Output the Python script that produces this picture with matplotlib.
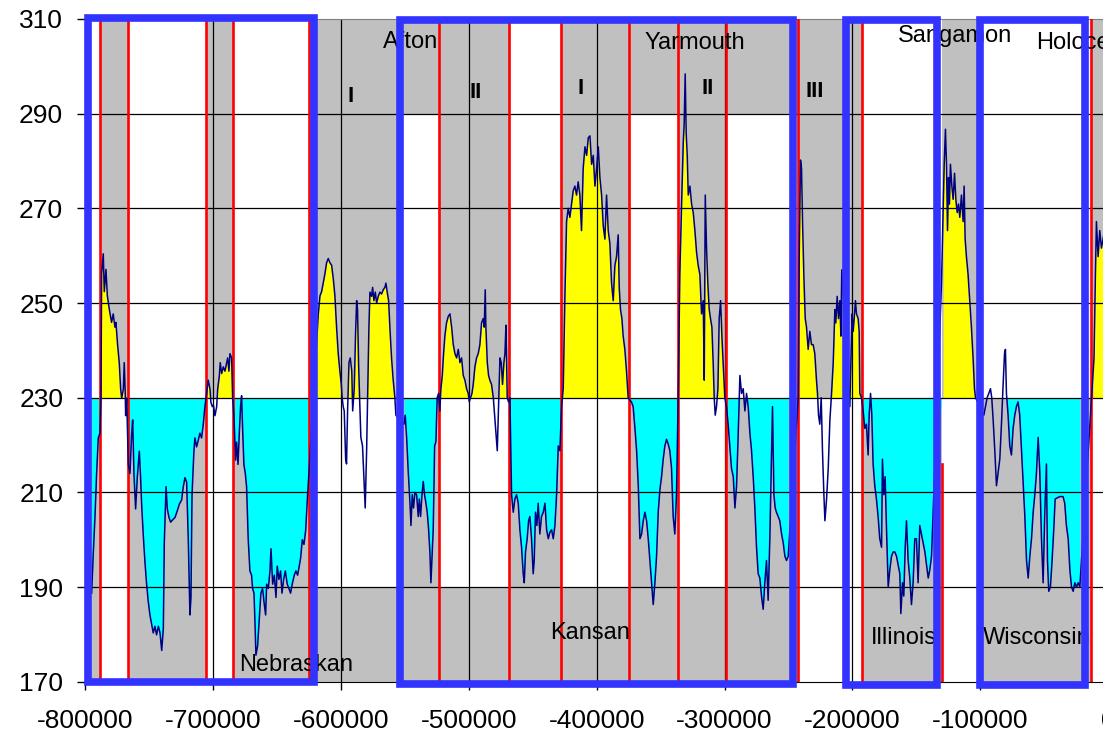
import numpy as np
import matplotlib.pyplot as plt
from matplotlib.patches import Rectangle

plt.rcParams['font.family'] = ['Liberation Sans', 'DejaVu Sans']

# CO2 record: age in thousand years (negative = before present), ppm
age_kyr = [
    -795.1, -793.8, -792.5, -791.2, -789.9, -788.6, -787.8, -787.3, -786.0, -785.2,
    -783.9, -782.8, -781.3, -779.5, -778.2, -776.9, -776.1, -774.8, -773.5, -772.4,
    -771.6, -770.3, -769.6, -768.8, -768.5, -767.7, -766.4, -765.1, -763.8, -763.0,
    -762.0, -760.7, -759.4, -758.6, -757.8, -756.8, -756.0, -754.7, -753.4, -752.1,
    -750.8, -749.5, -748.2, -746.9, -745.6, -744.3, -742.9, -741.6, -740.3, -739.0,
    -738.3, -736.9, -735.9, -734.6, -733.3, -731.7, -729.9, -728.1, -726.5, -724.7,
    -723.4, -722.1, -720.8, -719.5, -718.2, -717.4, -716.6, -715.1, -714.3, -713.0,
    -711.7, -710.4, -709.1, -707.8, -706.5, -705.2, -703.9, -702.5, -701.8, -700.7,
    -699.9, -698.6, -697.3, -696.5, -695.2, -694.5, -693.4, -692.1, -690.8, -689.5,
    -688.7, -687.7, -686.9, -685.6, -684.8, -683.8, -682.5, -681.7, -680.6, -679.6,
    -678.6, -677.8, -677.0, -676.0, -674.9, -673.9, -672.6, -671.3, -670.0, -669.2,
    -668.1, -667.4, -666.6, -665.3, -664.0, -662.7, -661.4, -660.3, -659.0, -658.2,
    -656.9, -655.6, -654.8, -653.5, -652.2, -650.9, -649.9, -648.6, -647.3, -646.2,
    -644.9, -643.6, -642.1, -640.8, -639.5, -638.2, -636.6, -635.3, -634.0, -632.7,
    -631.6, -630.3, -629.0, -627.7, -626.2, -624.9, -617.8, -616.5, -615.2, -613.9,
    -612.6, -611.3, -610.0, -608.7, -607.4, -606.1, -604.8, -603.5, -602.2, -600.9,
    -599.8, -599.1, -598.3, -597.5, -596.4, -595.7, -594.9, -593.8, -592.8, -591.6,
    -590.9, -590.4, -589.7, -588.6, -587.8, -587.1, -586.3, -585.5, -584.5, -583.2,
    -581.8, -581.1, -580.0, -579.0, -578.2, -577.4, -576.1, -575.3, -574.3, -573.2,
    -572.2, -570.9, -569.6, -568.3, -567.0, -565.7, -564.9, -563.9, -562.8, -561.8,
    -560.5, -559.2, -557.9, -557.1, -550.8, -549.8, -548.7, -547.4, -546.1, -545.3,
    -544.3, -543.3, -542.2, -540.9, -539.6, -538.8, -537.8, -536.7, -535.7, -534.7,
    -533.6, -532.6, -531.5, -530.5, -529.7, -528.7, -527.9, -526.8, -525.8, -524.8,
    -523.7, -522.7, -521.9, -520.8, -519.8, -518.8, -517.5, -516.1, -514.8, -513.5,
    -512.2, -510.9, -509.6, -508.3, -507.0, -505.7, -504.4, -503.1, -501.8, -500.5,
    -499.7, -498.7, -497.6, -496.6, -495.3, -494.0, -492.7, -491.4, -490.1, -488.8,
    -488.0, -487.2, -486.7, -485.6, -484.6, -483.6, -482.3, -480.9, -479.9, -478.9,
    -477.8, -476.8, -475.7, -474.7, -473.7, -472.6, -471.8, -471.0, -470.5, -470.0,
    -469.0, -467.9, -466.6, -465.3, -464.0, -462.7, -461.4, -460.1, -458.8, -457.5,
    -456.7, -455.7, -454.4, -453.3, -452.3, -451.0, -449.7, -448.9, -447.9, -446.8,
    -445.8, -444.5, -443.2, -441.8, -440.5, -439.2, -437.9, -436.6, -435.3, -434.0,
    -432.7, -431.4, -430.1, -428.8, -427.5, -426.2, -424.9, -423.6, -422.3, -421.0,
    -419.7, -418.4, -417.1, -415.8, -414.5, -413.2, -411.9, -410.6, -409.2, -407.9,
    -406.6, -405.3, -404.0, -402.7, -401.4, -400.1, -398.8, -397.5, -396.2, -394.9,
    -393.6, -392.3, -391.0, -389.7, -388.4, -387.1, -385.8, -384.5, -383.2, -382.4,
    -381.4, -380.3, -379.3, -378.0, -376.7, -375.4, -374.1, -372.8, -371.5, -370.1,
    -368.8, -367.5, -366.2, -364.9, -363.6, -362.3, -361.0, -359.7, -358.4, -357.1,
    -355.8, -354.5, -353.2, -351.9, -350.6, -349.3, -348.0, -346.7, -345.4, -344.1,
    -342.8, -341.5, -340.2, -338.9, -337.6, -336.3, -335.0, -333.7, -332.3, -331.6,
    -330.8, -330.0, -329.2, -328.4, -327.1, -325.8, -324.5, -323.2, -321.9, -320.6,
    -319.3, -318.0, -316.7, -315.9, -315.1, -314.1, -313.1, -312.0, -311.0, -309.9,
    -308.9, -308.1, -307.3, -306.3, -305.2, -304.2, -303.1, -302.1, -301.1, -299.8,
    -298.5, -297.2, -295.9, -294.6, -293.2, -291.9, -290.6, -289.3, -288.0, -286.7,
    -285.4, -284.1, -282.8, -281.5, -280.2, -278.9, -277.6, -276.3, -275.0, -273.7,
    -272.4, -271.1, -269.8, -268.5, -267.2, -265.9, -264.6, -263.3, -262.5, -261.4,
    -260.4, -259.4, -258.1, -256.8, -255.4, -254.1, -252.8, -251.5, -250.2, -242.4,
    -241.6, -240.6, -239.8, -239.0, -238.0, -236.9, -235.9, -234.6, -233.3, -232.0,
    -230.7, -229.4, -228.1, -227.3, -226.5, -225.5, -224.4, -223.4, -222.3, -221.5,
    -220.2, -218.9, -217.6, -216.3, -215.0, -213.7, -213.0, -211.9, -210.9, -209.8,
    -209.0, -208.3, -202.0, -201.2, -200.2, -199.4, -198.6, -197.6, -196.8, -195.5,
    -194.7, -194.2, -192.9, -191.6, -190.3, -189.0, -187.7, -186.9, -185.8, -184.8,
    -183.8, -182.5, -181.2, -179.9, -178.6, -177.2, -176.5, -175.4, -174.4, -173.3,
    -172.0, -170.7, -169.4, -168.1, -166.8, -165.5, -164.2, -162.9, -162.1, -160.8,
    -159.8, -158.7, -157.7, -156.4, -155.1, -153.8, -152.5, -151.2, -149.9, -148.6,
    -147.3, -146.0, -144.6, -143.3, -142.0, -140.7, -139.4, -138.1, -130.3, -129.0,
    -128.2, -127.2, -126.4, -125.6, -124.8, -124.1, -123.3, -122.2, -121.2, -120.1,
    -119.1, -118.0, -117.0, -116.0, -114.7, -113.4, -112.6, -111.8, -110.8, -109.5,
    -108.2, -106.9, -105.6, -104.5, -103.7, -97.2, -95.9, -94.6, -93.3, -92.0,
    -91.0, -89.9, -88.6, -87.3, -86.0, -84.7, -83.4, -82.1, -81.0, -80.3,
    -79.5, -78.2, -76.9, -75.6, -74.3, -73.0, -71.7, -70.4, -69.1, -67.7,
    -66.4, -65.1, -63.8, -62.5, -61.2, -59.9, -58.6, -57.3, -56.0, -54.7,
    -53.4, -52.1, -50.8, -49.5, -48.2, -47.4, -46.4, -45.1, -43.8, -42.5,
    -41.4, -37.8, -35.2, -33.9, -32.6, -31.2, -29.9, -28.6, -27.3, -26.0,
    -24.7, -23.4, -22.1, -11.7, -11.0, -9.9, -9.1, -7.8, -6.5, -5.2,
    -3.9, -2.5,
]
co2 = [
    188.7, 197.2, 204.7, 214.0, 221.5, 222.5, 229.9, 256.2, 260.4, 252.4,
    257.1, 251.5, 248.7, 245.9, 247.7, 244.9, 245.9, 241.2, 237.4, 231.8,
    229.9, 231.8, 237.4, 230.9, 226.2, 229.9, 215.9, 214.0, 222.5, 225.3,
    214.0, 206.5, 213.1, 215.9, 218.7, 213.1, 207.5, 200.9, 195.3, 190.6,
    186.9, 184.1, 182.2, 180.3, 181.7, 179.9, 181.7, 180.3, 176.6, 181.3,
    199.0, 211.2, 206.5, 204.7, 203.7, 204.2, 204.7, 206.1, 207.5, 208.4,
    211.2, 213.1, 212.2, 200.0, 184.1, 187.8, 209.3, 218.7, 221.5, 219.6,
    221.0, 222.5, 221.5, 224.3, 228.1, 230.9, 233.7, 231.8, 229.0, 228.1,
    228.5, 226.2, 228.1, 231.8, 234.6, 237.4, 235.1, 236.5, 235.6, 237.4,
    238.4, 235.6, 239.3, 238.4, 229.9, 226.2, 216.8, 220.6, 215.9, 222.5,
    228.1, 230.4, 223.4, 215.9, 214.0, 211.2, 200.0, 193.4, 192.5, 189.7,
    188.7, 183.1, 175.6, 177.5, 183.1, 188.7, 189.7, 186.9, 184.1, 190.6,
    189.7, 193.4, 198.1, 190.6, 192.5, 187.8, 194.4, 191.6, 193.4, 188.7,
    191.6, 193.4, 190.6, 189.7, 188.7, 190.6, 192.5, 193.4, 192.5, 194.4,
    196.2, 200.0, 199.0, 201.9, 209.3, 215.0, 247.7, 251.5, 252.4, 254.3,
    256.2, 258.5, 259.4, 258.5, 258.0, 255.2, 251.5, 244.9, 239.3, 235.6,
    232.8, 229.9, 228.1, 227.2, 217.0, 216.0, 227.2, 237.4, 238.4, 235.6,
    227.2, 229.1, 231.9, 244.0, 250.5, 248.6, 237.4, 230.0, 221.6, 219.8,
    211.4, 206.7, 218.8, 232.8, 244.9, 252.3, 251.4, 253.3, 250.5, 252.3,
    250.0, 251.4, 252.3, 251.9, 252.8, 253.3, 254.2, 252.3, 250.5, 244.9,
    238.4, 233.7, 230.0, 226.3, 224.4, 226.3, 221.6, 214.2, 207.7, 203.0,
    209.5, 206.7, 210.0, 209.5, 204.9, 208.6, 204.9, 209.5, 212.3, 209.5,
    207.7, 205.8, 202.1, 197.4, 190.9, 197.4, 202.1, 219.8, 220.7, 230.0,
    230.9, 227.2, 231.9, 234.7, 239.3, 243.0, 245.8, 247.2, 247.7, 244.9,
    241.2, 239.3, 238.4, 240.2, 237.4, 238.4, 234.7, 233.7, 231.9, 230.9,
    229.1, 230.0, 230.9, 232.8, 236.5, 238.4, 239.3, 241.2, 245.8, 246.7,
    244.9, 252.8, 244.9, 237.4, 234.7, 233.7, 232.8, 230.0, 226.3, 222.6,
    218.8, 228.1, 238.4, 237.4, 232.8, 237.4, 239.3, 245.3, 237.4, 230.0,
    229.1, 230.0, 209.5, 205.8, 208.6, 209.5, 207.7, 202.1, 198.4, 192.8,
    190.9, 197.4, 200.2, 204.0, 204.9, 200.2, 192.8, 195.6, 205.8, 203.0,
    207.7, 201.2, 204.9, 205.8, 207.7, 202.1, 200.2, 201.6, 202.1, 200.2,
    203.0, 209.5, 219.8, 218.8, 228.1, 231.9, 251.4, 267.2, 270.0, 268.1,
    270.9, 273.7, 274.7, 272.8, 275.6, 272.8, 265.3, 278.4, 283.0, 281.2,
    284.9, 285.3, 279.3, 281.2, 274.7, 278.4, 283.0, 276.5, 272.8, 266.3,
    263.5, 272.8, 265.3, 262.6, 254.2, 250.5, 257.9, 259.8, 264.4, 253.3,
    248.6, 246.7, 243.0, 240.2, 235.6, 230.0, 229.5, 229.1, 228.1, 223.5,
    218.8, 211.4, 200.2, 201.2, 204.0, 205.8, 204.0, 200.2, 195.6, 190.9,
    186.3, 190.9, 196.5, 205.8, 210.5, 213.3, 217.0, 219.8, 221.2, 220.2,
    218.8, 215.1, 204.9, 201.2, 209.5, 230.0, 256.0, 270.0, 284.0, 287.7,
    298.4, 285.8, 281.2, 272.8, 274.7, 270.9, 269.1, 265.3, 260.7, 257.9,
    256.0, 247.7, 250.5, 233.7, 272.8, 261.6, 254.2, 248.6, 246.7, 244.9,
    237.4, 230.0, 226.3, 228.1, 231.9, 246.7, 250.5, 243.0, 237.4, 230.0,
    228.1, 224.4, 219.8, 215.1, 213.3, 206.7, 211.4, 222.6, 234.7, 230.9,
    231.9, 227.2, 230.9, 228.1, 222.6, 218.8, 213.3, 206.7, 198.4, 192.8,
    191.9, 188.1, 185.3, 190.9, 195.6, 187.2, 200.2, 217.0, 228.1, 209.5,
    206.7, 205.8, 204.9, 204.0, 201.2, 199.3, 196.5, 195.6, 196.5, 230.0,
    259.8, 280.2, 278.4, 267.2, 256.0, 246.7, 244.9, 240.2, 244.0, 241.2,
    241.2, 239.3, 233.7, 230.9, 226.3, 224.4, 230.0, 218.8, 209.5, 204.0,
    208.6, 215.1, 225.3, 230.9, 237.4, 248.6, 245.8, 251.4, 246.7, 250.5,
    243.0, 257.0, 228.1, 237.4, 247.7, 244.0, 246.7, 250.5, 247.7, 246.7,
    244.0, 230.9, 230.0, 227.2, 223.5, 224.4, 217.9, 226.3, 230.9, 226.3,
    216.0, 211.4, 208.6, 204.9, 200.2, 198.4, 217.0, 209.5, 213.3, 202.1,
    190.0, 193.7, 196.5, 197.4, 197.4, 196.5, 194.7, 192.8, 184.4, 190.9,
    188.1, 198.4, 204.0, 195.6, 191.9, 186.3, 190.9, 200.2, 200.2, 190.9,
    203.0, 201.2, 199.3, 197.4, 194.7, 191.9, 193.7, 196.5, 254.2, 270.0,
    279.3, 286.7, 279.3, 265.3, 276.5, 270.9, 279.3, 274.7, 271.9, 277.4,
    271.9, 269.1, 270.9, 268.1, 272.8, 267.2, 274.7, 263.5, 259.8, 256.0,
    250.5, 244.9, 238.4, 231.9, 230.0, 226.3, 228.1, 230.0, 230.9, 231.9,
    230.0, 225.3, 218.8, 211.4, 214.2, 217.0, 224.4, 232.8, 239.3, 240.2,
    230.9, 226.3, 219.8, 217.9, 223.5, 226.3, 228.1, 229.1, 226.3, 218.8,
    212.3, 204.9, 195.6, 191.9, 196.5, 200.2, 205.8, 209.5, 214.2, 221.6,
    214.2, 200.2, 190.9, 205.8, 216.0, 195.6, 189.1, 190.0, 195.6, 202.1,
    208.6, 209.1, 209.1, 207.7, 203.0, 200.2, 193.7, 190.0, 189.1, 190.9,
    190.0, 190.9, 190.0, 235.6, 238.4, 256.0, 267.2, 259.8, 265.3, 261.6,
    263.5, 266.0,
]

baseline = 230

# warm stretches (yellow above the baseline) and cold stretches (cyan below), kyr
warm = [(-788.6, -766.7), (-705.7, -684.6), (-625.1, -554.0), (-523.4, -468.3),
        (-427.6, -374.5), (-336.5, -299.0), (-242.7, -192.7), (-130.2, -100.0),
        (-13.4, 0.0)]
cold = [(-800.0, -788.6), (-766.7, -705.7), (-684.6, -625.1), (-554.0, -523.4),
        (-468.3, -427.6), (-374.5, -336.5), (-299.0, -242.7), (-192.7, -130.2),
        (-80.3, -13.4)]

# white blocks on the grey plot area: (start kyr, end kyr, low ppm, high ppm)
white_blocks = [
    (-800.0, -788.6, 230, 310), (-788.6, -766.7, 170, 230),
    (-766.7, -705.7, 230, 310), (-705.7, -684.6, 170, 230),
    (-684.6, -625.1, 230, 310), (-625.1, -554.0, 190, 230),
    (-554.0, -523.4, 230, 290), (-523.4, -468.3, 190, 230),
    (-468.3, -427.6, 230, 310), (-427.6, -374.5, 190, 230),
    (-374.5, -336.5, 230, 290), (-336.5, -299.0, 190, 230),
    (-299.0, -242.7, 230, 290), (-242.7, -192.7, 170, 230),
    (-192.7, -130.2, 230, 310), (-130.2, -100.0, 170, 230),
    (-100.0, -13.4, 230, 310), (-13.4, 0.0, 170, 230),
]

# red boundary lines: (kyr, low ppm, high ppm)
red_lines = [(-788.6, 170, 310), (-766.7, 170, 310), (-705.7, 170, 310),
             (-684.6, 170, 310), (-625.1, 170, 310), (-523.4, 170, 310),
             (-468.3, 170, 310), (-427.6, 170, 310), (-374.5, 170, 310),
             (-336.5, 170, 310), (-299.0, 170, 310), (-242.7, 170, 310),
             (-192.7, 170, 310), (-130.2, 170, 216), (-13.4, 170, 310)]

# blue frames: (start kyr, end kyr, low ppm, high ppm)
frames = [(-797.7, -621.0, 170.0, 310.3), (-553.9, -246.3, 169.5, 309.8),
          (-204.9, -134.2, 169.4, 309.8), (-100.3, -18.2, 169.4, 309.8)]

# stage names: (text, kyr, ppm, horizontal alignment)
names = [("Afton", -545.3, 305.2, "center"), ("Yarmouth", -323.6, 305.0, "center"),
         ("Sangamon", -119.5, 306.5, "center"), ("Holocene", -56.0, 305.0, "left"),
         ("Nebraskan", -635.3, 173.5, "center"), ("Kansan", -405.4, 180.2, "center"),
         ("Illinois", -159.4, 179.2, "center"), ("Wisconsin", -98.2, 179.2, "left")]
numerals = [("I", -592.3, 293.6), ("II", -494.5, 294.4), ("I", -412.5, 295.4),
            ("II", -313.3, 295.4), ("III", -229.4, 294.6)]

x = np.array(age_kyr) * 1000
y = np.array(co2)

fig = plt.figure(figsize=(11.03, 7.33), dpi=100)
ax = fig.add_axes([0.0774, 0.0700, 0.9272, 0.9041])
ax.set_facecolor('#c0c0c0')
ax.set_xlim(-800000, 0)
ax.set_ylim(170, 310)

for a, b, lo, hi in white_blocks:
    ax.add_patch(Rectangle((a * 1000, lo), (b - a) * 1000, hi - lo,
                           facecolor='white', edgecolor='none', zorder=0.8))

for a, b in warm:
    m = (x >= a * 1000) & (x <= b * 1000)
    ax.fill_between(x, baseline, np.maximum(y, baseline), where=m,
                    color='#ffff00', lw=0, zorder=1.2)
for a, b in cold:
    m = (x >= a * 1000) & (x <= b * 1000)
    ax.fill_between(x, np.minimum(y, baseline), baseline, where=m,
                    color='#00ffff', lw=0, zorder=1.2)

for v in range(190, 300, 20):
    ax.axhline(v, color='black', lw=0.9, zorder=2.5)
for v in range(-700000, 0, 100000):
    ax.axvline(v, color='black', lw=0.9, zorder=2.5)

for k, lo, hi in red_lines:
    ax.plot([k * 1000, k * 1000], [lo, hi], color='red', lw=1.9, zorder=3)

ax.plot(x, y, color='#000080', lw=1.1, zorder=4)

for t, k, v, ha in names:
    ax.text(k * 1000, v, t, ha=ha, va='center', fontsize=17, zorder=5)
for t, k, v in numerals:
    ax.text(k * 1000, v, t, ha='center', va='center', fontsize=16,
            fontweight='bold', zorder=5)

for a, b, lo, hi in frames:
    ax.add_patch(Rectangle((a * 1000, lo), (b - a) * 1000, hi - lo, fill=False,
                           edgecolor='#3333ff', lw=5.5, joinstyle='miter',
                           zorder=6, clip_on=False))

xt = list(range(-800000, 1, 100000))
ax.set_xticks(xt)
ax.set_xticklabels([str(v) for v in xt])
yt = list(range(170, 311, 20))
ax.set_yticks(yt)
ax.set_yticklabels([str(v) for v in yt])
ax.tick_params(direction='out', length=6, width=1, labelsize=19, color='black')
ax.tick_params(axis='y', pad=10)
ax.tick_params(axis='x', pad=13.5)

ax.spines['right'].set_visible(False)
ax.spines['top'].set_color('#808080')
ax.spines['left'].set_color('black')
ax.spines['bottom'].set_color('black')

fig.savefig('out.png', dpi=100)
